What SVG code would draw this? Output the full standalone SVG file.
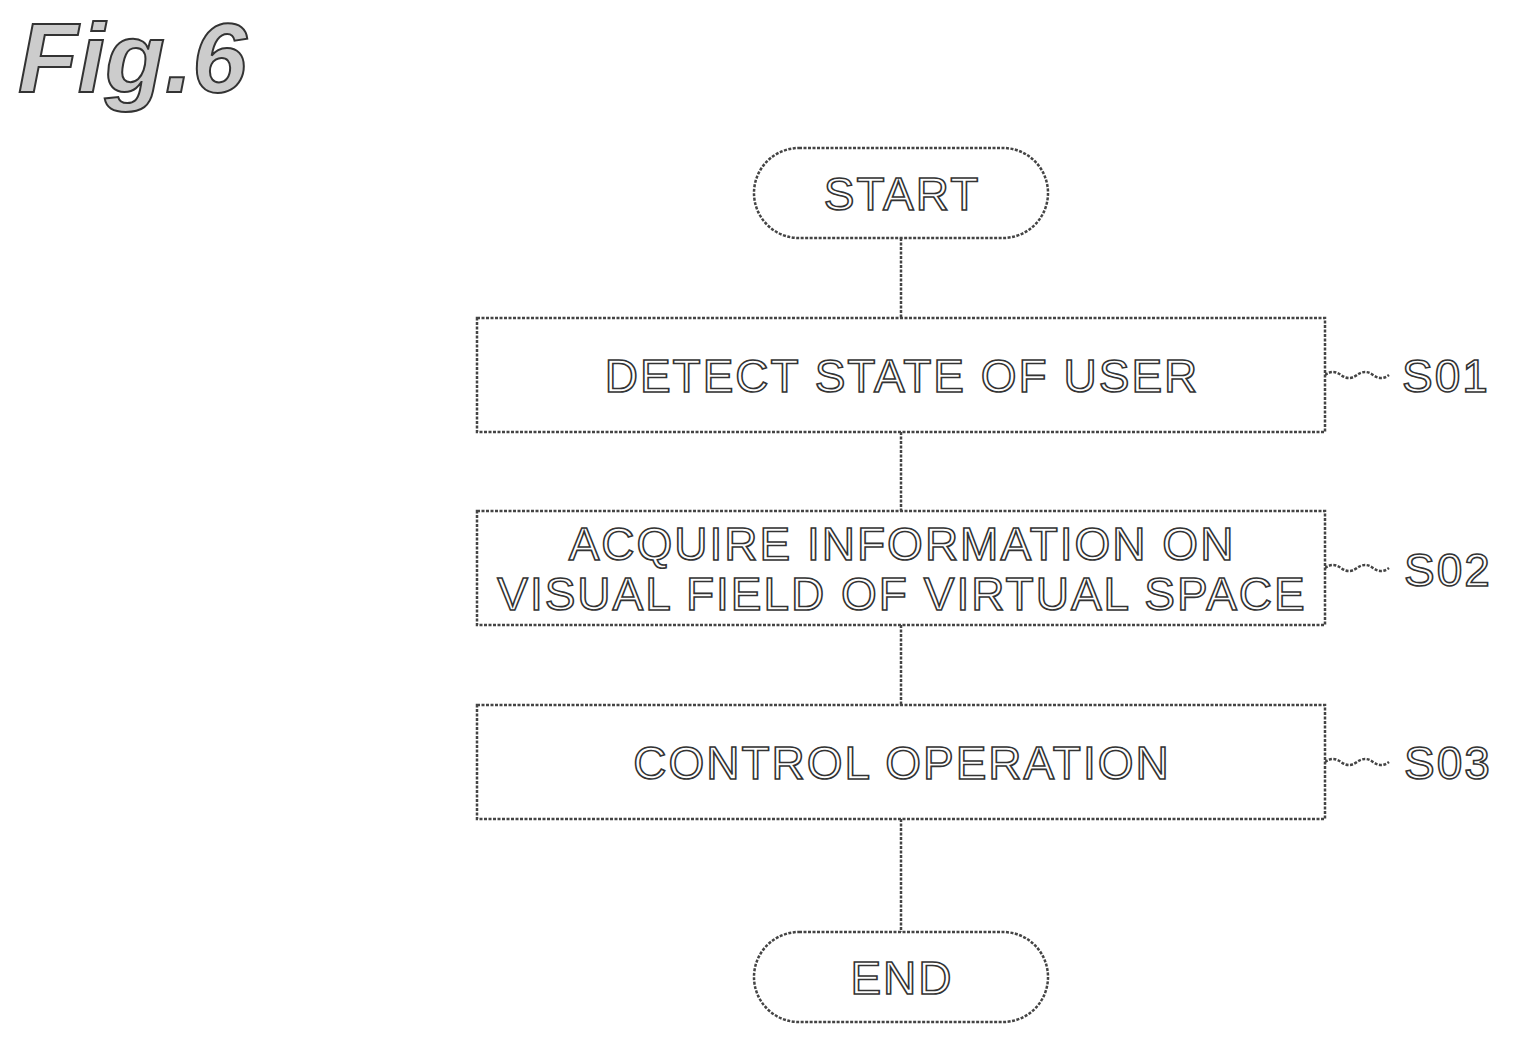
<svg xmlns="http://www.w3.org/2000/svg" width="1518" height="1044" viewBox="0 0 1518 1044">
<style>
.s{fill:#fff;stroke:#444;stroke-width:2.5;stroke-dasharray:3 1.5}
.t{font-family:"Liberation Sans",Arial,sans-serif;font-size:46px;letter-spacing:2px;fill:#fff;stroke:#333;stroke-width:1.6;text-anchor:middle}
.l{fill:none;stroke:#444;stroke-width:2.5;stroke-dasharray:3 1.5}
</style>
<rect width="1518" height="1044" fill="#fff"/>
<text x="18" y="92" font-family="Liberation Sans,Arial,sans-serif" font-size="98" font-style="italic" font-weight="bold" fill="#ccc" stroke="#333" stroke-width="2">Fig.6</text>
<g id="connectors">
<line class="l" x1="901" y1="238" x2="901" y2="318"/>
<line class="l" x1="901" y1="432" x2="901" y2="511"/>
<line class="l" x1="901" y1="625" x2="901" y2="705"/>
<line class="l" x1="901" y1="819" x2="901" y2="932"/>
<path class="l" d="M1325 375 q8 -6 16 0 t16 0 t16 0 t16 0"/>
<path class="l" d="M1325 568 q8 -6 16 0 t16 0 t16 0 t16 0"/>
<path class="l" d="M1325 762 q8 -6 16 0 t16 0 t16 0 t16 0"/>
</g>
<g id="start"><rect class="s" x="754" y="148" width="294" height="90" rx="45"/><text class="t" x="902" y="210">START</text></g>
<g id="s01"><rect class="s" x="477" y="318" width="848" height="114"/><text class="t" x="902" y="392">DETECT STATE OF USER</text><text class="t" x="1446" y="392">S01</text></g>
<g id="s02"><rect class="s" x="477" y="511" width="848" height="114"/><text class="t" x="902" y="560">ACQUIRE INFORMATION ON</text><text class="t" x="902" y="610">VISUAL FIELD OF VIRTUAL SPACE</text><text class="t" x="1448" y="586">S02</text></g>
<g id="s03"><rect class="s" x="477" y="705" width="848" height="114"/><text class="t" x="902" y="779">CONTROL OPERATION</text><text class="t" x="1448" y="779">S03</text></g>
<g id="end"><rect class="s" x="754" y="932" width="294" height="90" rx="45"/><text class="t" x="902" y="994">END</text></g>
</svg>
